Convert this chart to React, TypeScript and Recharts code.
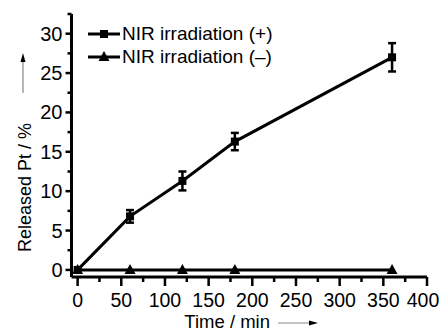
import React from "react";
import { ComposedChart, Line, XAxis, YAxis, ErrorBar, Legend } from "recharts";

// Pt release vs time, with and without NIR irradiation
const times = [0, 60, 120, 180, 360];
const releasedWithNir = [0, 6.8, 11.3, 16.3, 27.0];
const errorWithNir = [0, 0.8, 1.2, 1.1, 1.8];
const releasedWithoutNir = [0, 0, 0, 0, 0];

const xTicks = [0, 25, 50, 75, 100, 125, 150, 175, 200, 225, 250, 275, 300, 325, 350, 375, 400];
const yTicks = [0, 2.5, 5, 7.5, 10, 12.5, 15, 17.5, 20, 22.5, 25, 27.5, 30, 32.5];

const seriesNames: Record<string, string> = {
  plus: "NIR irradiation (+)",
  minus: "NIR irradiation (–)",
};

const data = times.map((t, i) => ({
  time: t,
  plus: releasedWithNir[i],
  plusErr: errorWithNir[i],
  minus: releasedWithoutNir[i],
}));

const FONT = "Liberation Sans, Arial, Helvetica, sans-serif";

const SquareDot = (props: any) => {
  const { cx, cy, index } = props;
  if (cx == null || cy == null) return <g key={`sq-${index}`} />;
  return <rect key={`sq-${index}`} x={cx - 4} y={cy - 4} width={8} height={8} fill="#000" />;
};

const TriangleDot = (props: any) => {
  const { cx, cy, index } = props;
  if (cx == null || cy == null) return <g key={`tr-${index}`} />;
  return (
    <polygon
      key={`tr-${index}`}
      points={`${cx},${cy - 6} ${cx - 5.5},${cy + 4} ${cx + 5.5},${cy + 4}`}
      fill="#000"
    />
  );
};

const XTick = (props: any) => {
  const { x, y, payload } = props;
  const major = payload.value % 50 === 0;
  const last = payload.value === 400;
  return (
    <g>
      <line x1={x} y1={y} x2={x} y2={y + (major ? 9 : 5)} stroke="#000" strokeWidth={2.5} />
      {major && (
        <text
          x={last ? x - 4 : x}
          y={y + 30}
          textAnchor="middle"
          fontSize={19.5}
          fontFamily={FONT}
          fill="#000"
        >
          {payload.value}
        </text>
      )}
    </g>
  );
};

const YTick = (props: any) => {
  const { x, y, payload } = props;
  const major = payload.value % 5 === 0;
  return (
    <g>
      <line x1={x} y1={y} x2={x - (major ? 6 : 4)} y2={y} stroke="#000" strokeWidth={2.5} />
      {major && (
        <text x={x - 9} y={y + 7} textAnchor="end" fontSize={20} fontFamily={FONT} fill="#000">
          {payload.value}
        </text>
      )}
    </g>
  );
};

const XLabel = () => (
  <g>
    <text x={270} y={328} textAnchor="end" fontSize={18.5} fontFamily={FONT} fill="#000">
      Time / min
    </text>
    <line x1={278} y1={323} x2={311} y2={323} stroke="#888" strokeWidth={1.2} />
    <polygon points="318,323 309,320.5 309,325.5" fill="#000" />
  </g>
);

const YLabel = () => (
  <g>
    <text
      x={31}
      y={252}
      transform="rotate(-90, 31, 252)"
      fontSize={18}
      fontFamily={FONT}
      fill="#000"
    >
      Released Pt / %
    </text>
    <line x1={23} y1={93} x2={23} y2={60} stroke="#888" strokeWidth={1.2} />
    <polygon points="23,53 20.5,62 25.5,62" fill="#000" />
  </g>
);

const LegendContent = (props: any) => {
  const { payload } = props;
  return (
    <div style={{ fontFamily: FONT, fontSize: 19, color: "#000" }}>
      {(payload || []).map((entry: any) => (
        <div key={entry.dataKey} style={{ display: "flex", alignItems: "center", height: 23 }}>
          <svg width={33} height={14} style={{ marginRight: 1 }}>
            <line x1={0} y1={7} x2={32} y2={7} stroke="#000" strokeWidth={3} />
            {entry.dataKey === "plus" ? (
              <rect x={12} y={3} width={8} height={8} fill="#000" />
            ) : (
              <polygon points="16,1 10.5,11 21.5,11" fill="#000" />
            )}
          </svg>
          <span style={{ lineHeight: "23px" }}>{seriesNames[entry.dataKey]}</span>
        </div>
      ))}
    </div>
  );
};

export default function App() {
  return (
    <div style={{ position: "absolute", left: 0, top: 0, background: "#fff" }}>
      <ComposedChart width={440} height={333} data={data} margin={{ top: 14, right: 13, bottom: 0, left: 0 }}>
        <XAxis
          dataKey="time"
          type="number"
          domain={[-7, 400]}
          ticks={xTicks}
          interval={0}
          tick={<XTick />}
          tickLine={false}
          tickSize={0}
          tickMargin={0}
          axisLine={{ stroke: "#000", strokeWidth: 3 }}
          height={56}
          label={<XLabel />}
        />
        <YAxis
          type="number"
          domain={[-0.9, 32.5]}
          ticks={yTicks}
          interval={0}
          tick={<YTick />}
          tickLine={false}
          tickSize={0}
          tickMargin={0}
          axisLine={{ stroke: "#000", strokeWidth: 3 }}
          width={71.5}
          label={<YLabel />}
        />
        <Legend
          layout="vertical"
          align="center"
          verticalAlign="middle"
          content={<LegendContent />}
          wrapperStyle={{ position: "absolute", left: 88, top: 22, width: "auto" }}
        />
        <Line
          dataKey="plus"
          name={seriesNames.plus}
          stroke="#000"
          strokeWidth={3}
          dot={SquareDot}
          activeDot={false}
          isAnimationActive={false}
        >
          <ErrorBar dataKey="plusErr" direction="y" width={4} stroke="#000" strokeWidth={2.5} isAnimationActive={false} />
        </Line>
        <Line
          dataKey="minus"
          name={seriesNames.minus}
          stroke="#000"
          strokeWidth={3}
          dot={TriangleDot}
          activeDot={false}
          isAnimationActive={false}
        />
      </ComposedChart>
    </div>
  );
}
